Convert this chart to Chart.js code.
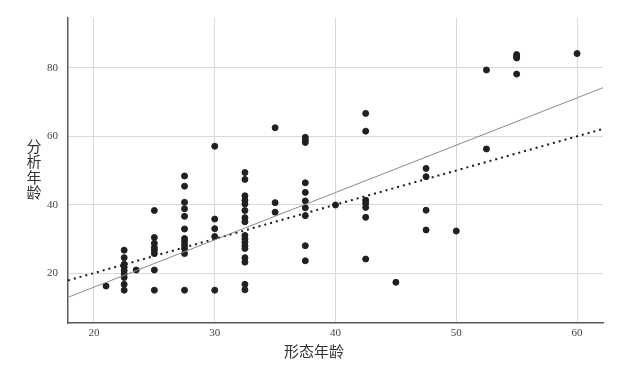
<!DOCTYPE html>
<html>
<head>
<meta charset="utf-8">
<script src="https://cdn.jsdelivr.net/npm/chart.js@4"></script>
<style>
  html, body { margin: 0; padding: 0; background: #fff; }
  #wrap { width: 633px; height: 367px; position: relative; }
</style>
</head>
<body>
<div id="wrap"><canvas id="myChart" width="633" height="367"></canvas></div>
<script>
// 形态年龄 (x) / 分析年龄 (y), one entry per sample
var morphAge = [
  21,
  22.5, 22.5, 22.5, 22.5, 22.5, 22.5, 22.5, 22.5, 22.5,
  23.5,
  25, 25, 25, 25, 25, 25, 25, 25,
  27.5, 27.5, 27.5, 27.5, 27.5, 27.5, 27.5, 27.5, 27.5, 27.5, 27.5, 27.5,
  30, 30, 30, 30, 30,
  32.5, 32.5, 32.5, 32.5, 32.5, 32.5, 32.5, 32.5, 32.5, 32.5, 32.5, 32.5, 32.5, 32.5, 32.5, 32.5, 32.5,
  35, 35, 35,
  37.5, 37.5, 37.5, 37.5, 37.5, 37.5, 37.5, 37.5, 37.5, 37.5,
  40,
  42.5, 42.5, 42.5, 42.5, 42.5, 42.5, 42.5,
  45,
  47.5, 47.5, 47.5, 47.5,
  50,
  52.5, 52.5,
  55, 55, 55, 55,
  60
];
var analysisAge = [
  16.2,
  26.7, 24.5, 22.6, 21.7, 20.7, 19.7, 18.7, 16.7, 15.0,
  20.9,
  38.3, 30.4, 28.7, 27.5, 26.7, 25.7, 20.9, 15.0,
  48.4, 45.4, 40.7, 38.8, 36.6, 32.9, 30.1, 29.2, 28.2, 27.2, 25.7, 15.0,
  57.1, 35.8, 33.0, 30.7, 15.0,
  49.4, 47.4, 42.6, 41.3, 40.2, 38.3, 36.2, 35.0, 31.0, 30.0, 29.0, 28.0, 27.2, 24.5, 23.2, 16.7, 15.1,
  62.5, 40.6, 37.8,
  59.7, 58.9, 58.2, 46.4, 43.6, 41.1, 39.1, 36.8, 28.0, 23.6,
  39.9,
  66.7, 61.5, 41.3, 40.4, 39.2, 36.3, 24.1,
  17.3,
  50.6, 48.2, 38.4, 32.6,
  32.3,
  79.4, 56.3,
  83.9, 83.4, 82.9, 78.2,
  84.2
];

var xTicks = [20, 30, 40, 50, 60];
var yTicks = [20, 40, 60, 80];
var xMin = 17.85, xMax = 62.15;
var yMin = 5.4, yMax = 94.6;

// fitted line (solid) and reference line y = x (dotted)
var fitSlope = 1.384, fitIntercept = -11.8;

var pts = [];
for (var i = 0; i < morphAge.length; i++) {
  pts.push({x: morphAge[i], y: analysisAge[i]});
}
var fitLine = [
  {x: xMin, y: fitIntercept + fitSlope * xMin},
  {x: xMax, y: fitIntercept + fitSlope * xMax}
];
var idLine = [{x: xMin, y: xMin}, {x: xMax, y: xMax}];

var tickFont = {family: 'Liberation Serif', size: 11};

var titles = {
  id: 'titles',
  afterDraw: function(chart) {
    var ctx = chart.ctx;
    ctx.save();
    ctx.fillStyle = '#333';
    ctx.font = '15px "Noto Sans CJK SC"';
    ctx.textAlign = 'center';
    ctx.textBaseline = 'middle';
    var chars = ['分', '析', '年', '龄'];
    for (var i = 0; i < chars.length; i++) {
      ctx.fillText(chars[i], 34, 146 + i * 15.5);
    }
    ctx.fillText('形态年龄', 314, 351);
    ctx.restore();
  }
};

new Chart(document.getElementById('myChart'), {
  type: 'scatter',
  data: {
    datasets: [
      {
        label: 'fit',
        type: 'line',
        data: fitLine,
        borderColor: '#8a8a8a',
        borderWidth: 1,
        pointRadius: 0,
        fill: false
      },
      {
        label: 'ref',
        type: 'line',
        data: idLine,
        borderColor: '#1a1a1a',
        borderWidth: 2,
        borderDash: [2, 4],
        pointRadius: 0,
        fill: false
      },
      {
        label: 'samples',
        data: pts,
        backgroundColor: '#231f20',
        borderColor: '#231f20',
        pointRadius: 3,
        pointHoverRadius: 3
      }
    ]
  },
  options: {
    responsive: false,
    animation: false,
    layout: {padding: {left: 0, right: 30, top: 18, bottom: 0}},
    plugins: {legend: {display: false}, tooltip: {enabled: false}},
    scales: {
      x: {
        type: 'linear',
        min: xMin,
        max: xMax,
        afterBuildTicks: function(axis) {
          axis.ticks = xTicks.map(function(v) { return {value: v}; });
        },
        afterFit: function(axis) { axis.height = 44; },
        grid: {color: '#d9d9d9', lineWidth: 1, drawTicks: false},
        border: {display: true, color: '#5a5a5a', width: 1.5},
        ticks: {color: '#444', font: tickFont, padding: 4}
      },
      y: {
        type: 'linear',
        min: yMin,
        max: yMax,
        afterBuildTicks: function(axis) {
          axis.ticks = yTicks.map(function(v) { return {value: v}; });
        },
        afterFit: function(axis) { axis.width = 68; },
        grid: {color: '#d9d9d9', lineWidth: 1, drawTicks: false},
        border: {display: true, color: '#5a5a5a', width: 1.5},
        ticks: {color: '#444', font: tickFont, padding: 10}
      }
    }
  },
  plugins: [titles]
});
</script>
</body>
</html>
